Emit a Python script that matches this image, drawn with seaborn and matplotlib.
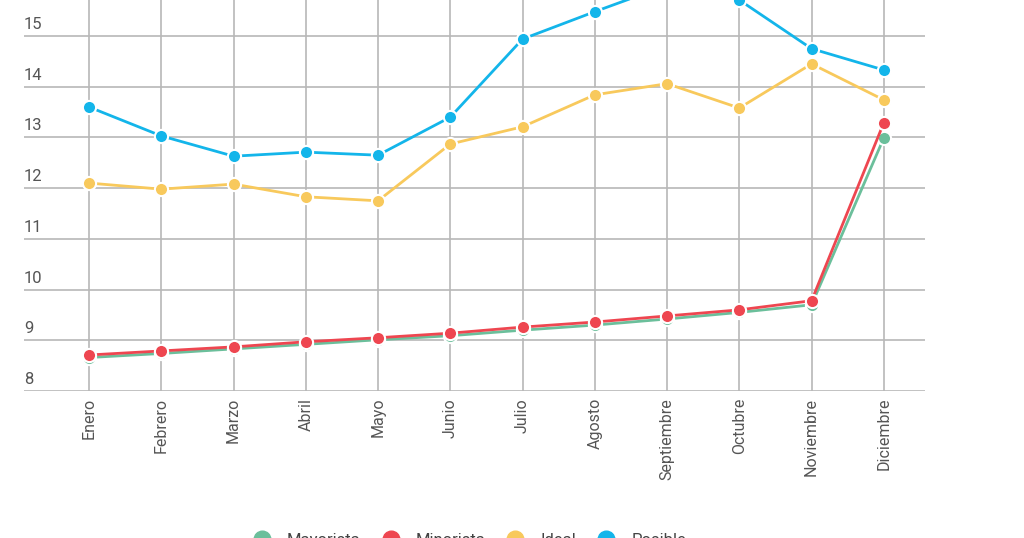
import numpy as np
import pandas as pd
import matplotlib
matplotlib.use("Agg")
import matplotlib.pyplot as plt
import matplotlib.transforms as mtransforms
from matplotlib.lines import Line2D
import seaborn as sns

meses = ["Enero", "Febrero", "Marzo", "Abril", "Mayo", "Junio", "Julio",
         "Agosto", "Septiembre", "Octubre", "Noviembre", "Diciembre"]
series = ["Mayorista", "Minorista", "Ideal", "Posible"]
verde = [8.66, 8.74, 8.83, 8.92, 9.01, 9.09, 9.20, 9.30, 9.42, 9.55, 9.70, 12.99]
rojo = [8.71, 8.79, 8.87, 8.97, 9.05, 9.14, 9.26, 9.36, 9.48, 9.60, 9.78, 13.29]
amarillo = [12.10, 11.98, 12.08, 11.83, 11.75, 12.87, 13.21, 13.84, 14.06, 13.58, 14.45, 13.74]
azul = [13.60, 13.03, 12.63, 12.71, 12.65, 13.40, 14.94, 15.48, 16.00, 15.71, 14.75, 14.33]
y_ticks = [8, 9, 10, 11, 12, 13, 14, 15]
colores = ["#6bbf9b", "#ee4650", "#f8c95c", "#13b5ea"]

df = pd.DataFrame({
    "mes": meses * 4,
    "serie": np.repeat(series, len(meses)),
    "valor": verde + rojo + amarillo + azul,
})

sns.set_style("white")
plt.rcParams["font.family"] = ["Roboto", "DejaVu Sans"]

fig = plt.figure(figsize=(10.24, 5.38), dpi=100)
ax = fig.add_axes([24 / 1024, 147 / 538, 901 / 1024, 391 / 538])

sns.lineplot(data=df, x="mes", y="valor", hue="serie", hue_order=series,
             palette=colores, marker="o", markersize=9.5, markeredgecolor="white",
             markeredgewidth=1.5, linewidth=2, sort=False, legend=False, ax=ax,
             zorder=3)

ax.set_xlim(-0.9, 11.57)
ax.set_ylim(8, 15.71)
ax.set_yticks(y_ticks)
ax.set_xticks(range(len(meses)))
ax.set_xticklabels(meses, rotation=90, color="#555555", fontsize=11.5)
ax.set_yticklabels([])
ax.tick_params(axis="both", length=0)
ax.tick_params(axis="x", pad=5)
ax.grid(True, color="#b8b8b8", linewidth=1.2)
ax.set_axisbelow(True)
for s in ax.spines.values():
    s.set_visible(False)
ax.set_xlabel("")
ax.set_ylabel("")

trans = mtransforms.offset_copy(ax.get_yaxis_transform(), fig=fig, x=0, y=4, units="dots")
for t in y_ticks:
    ax.text(0, t, str(t), transform=trans, ha="left", va="bottom",
            fontsize=12, color="#555555")

handles = [Line2D([], [], linestyle="none", marker="o", markersize=12,
                  markerfacecolor=c, markeredgecolor=c) for c in colores]
fig.legend(handles, series, loc="center", bbox_to_anchor=(0.458, -0.004),
           ncol=4, frameon=False, fontsize=12, labelcolor="#444444",
           handlelength=1.2, handletextpad=0.9, columnspacing=1.2)

fig.savefig("out.png", dpi=100)
